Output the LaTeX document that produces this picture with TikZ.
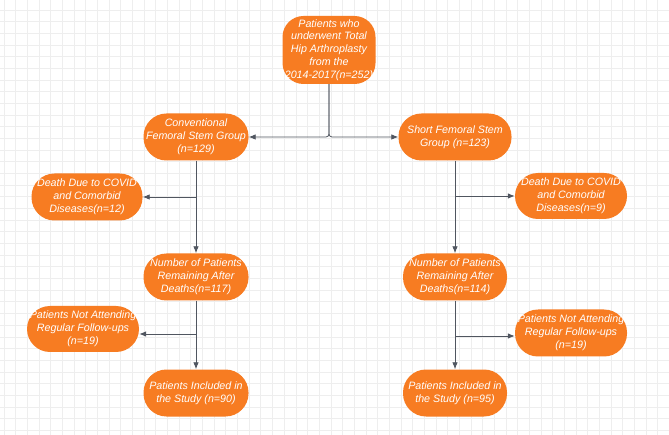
\documentclass[tikz,border=0pt]{standalone}
\usepackage{fontspec}
\setmainfont{Liberation Sans}
\usetikzlibrary{arrows.meta}
\definecolor{boxorange}{RGB}{247,124,34}
\definecolor{linegray}{RGB}{80,86,96}
\definecolor{gridminor}{RGB}{238,238,238}
\tikzset{
  flowbox/.style={draw=none, fill=boxorange, text=white, font=\fontsize{10.7}{12.8}\selectfont\itshape,
    align=center, inner sep=0pt, rounded corners=23pt},
  arr/.style={draw=linegray, line width=0.8pt, -{Latex[length=7pt,width=5.5pt]}},
}
\begin{document}
\begin{tikzpicture}[x=1pt,y=-1pt]
\useasboundingbox (0,0) rectangle (669,435);
\fill[white] (0,0) rectangle (669,435);
\foreach \i in {0,...,57} {
  \draw[gridminor, line width=0.5pt] ({4+11.67*\i},0) -- ({4+11.67*\i},435);
}
\foreach \i in {0,...,37} {
  \draw[gridminor, line width=0.5pt] (0,{10+11.67*\i}) -- (669,{10+11.67*\i});
}
\node[flowbox, rounded corners=21pt, minimum width=93pt, minimum height=68pt] (top) at (329,50)
  {Patients who\\underwent Total\\Hip Arthroplasty\\from the\\2014-2017(n=252)};
\node[flowbox, minimum width=105pt, minimum height=47pt] (conv) at (196,137)
  {Conventional\\Femoral Stem Group\\(n=129)};
\node[flowbox, minimum width=113pt, minimum height=47pt] (short) at (455,137)
  {Short Femoral Stem\\Group (n=123)};
\node[flowbox, minimum width=111pt, minimum height=47pt] (d1) at (87,197)
  {Death Due to COVID\\and Comorbid\\Diseases(n=12)};
\node[flowbox, minimum width=112pt, minimum height=46pt] (d2) at (571,196)
  {Death Due to COVID\\and Comorbid\\Diseases(n=9)};
\node[flowbox, minimum width=105pt, minimum height=47pt] (n1) at (196,277)
  {Number of Patients\\Remaining After\\Deaths(n=117)};
\node[flowbox, minimum width=104pt, minimum height=47pt] (n2) at (455,277)
  {Number of Patients\\Remaining After\\Deaths(n=114)};
\node[flowbox, minimum width=112pt, minimum height=46pt] (p1) at (83,329)
  {Patients Not Attending\\Regular Follow-ups\\(n=19)};
\node[flowbox, minimum width=112pt, minimum height=47pt] (p2) at (571,333)
  {Patients Not Attending\\Regular Follow-ups\\(n=19)};
\node[flowbox, minimum width=105pt, minimum height=47pt] (i1) at (196,393)
  {Patients Included in\\the Study (n=90)};
\node[flowbox, minimum width=104pt, minimum height=47pt] (i2) at (455,393)
  {Patients Included in\\the Study (n=95)};
% connectors
\draw[arr, rounded corners=3pt] (top.south) |- (conv.east);
\draw[arr, rounded corners=3pt] (top.south) |- (short.west);
\draw[arr] (conv.south) -- (n1.north);
\draw[arr] (short.south) -- (n2.north);
\draw[arr] (n1.south) -- (i1.north);
\draw[arr] (n2.south) -- (i2.north);
\coordinate (b1) at (196,197);
\coordinate (b2) at (455,196);
\coordinate (b3) at (196,334);
\coordinate (b4) at (455,336);
\draw[arr] (b1) -- (d1.east);
\draw[arr] (b2) -- (d2.west);
\draw[arr] (b3) -- (b3 -| p1.east);
\draw[arr] (b4) -- (b4 -| p2.west);
\end{tikzpicture}
\end{document}
